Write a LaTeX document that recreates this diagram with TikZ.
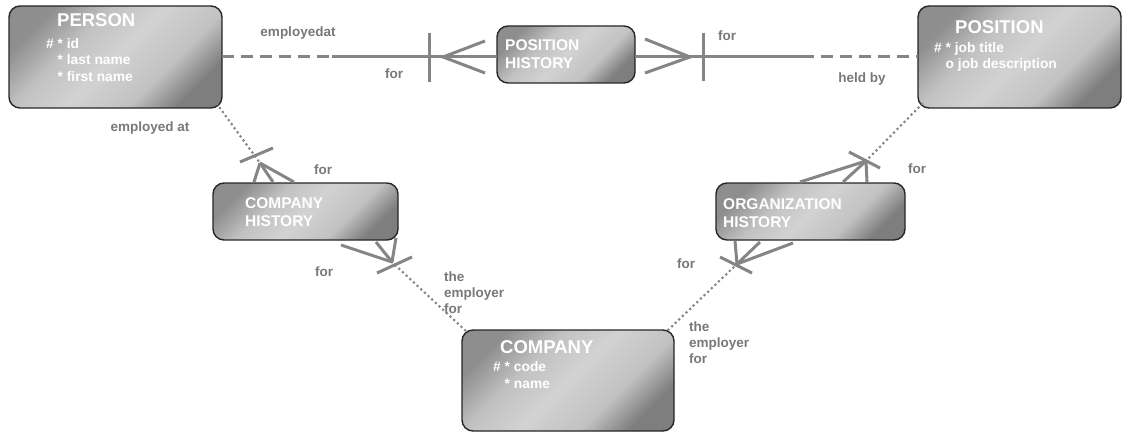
\documentclass[tikz,border=0pt]{standalone}
\usepackage{fontspec}
\setmainfont{Liberation Sans}
\usetikzlibrary{calc}

\definecolor{boxdark}{HTML}{8E8E8E}
\definecolor{boxdarker}{HTML}{7E7E7E}
\definecolor{boxmid}{HTML}{C2C2C2}
\definecolor{boxlight}{HTML}{D2D2D2}
\definecolor{linkgray}{HTML}{858585}
\definecolor{labelgray}{HTML}{787878}

% diagonal sheen for the entity boxes: dark corners, broad light middle
\pgfdeclareverticalshading{entityshade}{100bp}{%
  color(0bp)=(boxdarker); color(25bp)=(boxdarker); color(36bp)=(boxmid);
  color(50bp)=(boxlight); color(62bp)=(boxmid); color(75bp)=(boxdark);
  color(100bp)=(boxdark)}

\begin{document}
\begin{tikzpicture}[x=1pt,y=-1pt,
  entity/.style={draw=black!85, line width=1.4pt, rounded corners=11pt,
    shading=entityshade, shading angle=45, inner sep=0pt, outer sep=0pt},
  title/.style={font=\bfseries\fontsize{18.5}{20}\selectfont, text=white,
    anchor=west, inner sep=0pt},
  subtitle/.style={font=\bfseries\fontsize{15.5}{18}\selectfont, text=white,
    anchor=west, align=left, inner sep=0pt},
  attrs/.style={font=\bfseries\fontsize{13.8}{16.5}\selectfont, text=white,
    anchor=west, align=left, inner sep=0pt},
  lbl/.style={font=\bfseries\fontsize{13.5}{16}\selectfont, text=labelgray,
    inner sep=0pt},
  link/.style={draw=linkgray, line width=3pt},
  dashlink/.style={link, dash pattern=on 12pt off 7pt},
  dotlink/.style={draw=linkgray, line width=3pt, line cap=round,
    dash pattern=on 0pt off 5pt}
]
\useasboundingbox (0,0) rectangle (1124,433);

% entity boxes
\node[entity, minimum width=213pt, minimum height=102pt] (person)   at (115.5,57)   {};
\node[entity, minimum width=138pt, minimum height=57pt]  (poshist)  at (566,54.5)   {};
\node[entity, minimum width=203pt, minimum height=102pt] (position) at (1019.5,57)  {};
\node[entity, minimum width=185pt, minimum height=57pt]  (comphist) at (305.5,211.5) {};
\node[entity, minimum width=189pt, minimum height=57pt]  (orghist)  at (810.5,211.5) {};
\node[entity, minimum width=212pt, minimum height=101pt] (company)  at (568,380.5)  {};

% PERSON -- POSITION HISTORY
\coordinate (ph-l-dash) at (332,57);
\coordinate (ph-l-bar)  at (429,57);
\coordinate (ph-l-foot) at (443,57);
\draw[dashlink] (person.east) -- (ph-l-dash);
\draw[link] (ph-l-dash) -- (poshist.west |- person.east);
\draw[link] ([yshift=24pt]ph-l-bar) -- ([yshift=-25pt]ph-l-bar);
\draw[link] ($(ph-l-foot)+(42,-16)$) -- (ph-l-foot) -- ($(ph-l-foot)+(42,16)$);

% POSITION HISTORY -- POSITION
\coordinate (ph-r-dash) at (802,57);
\coordinate (ph-r-bar)  at (703,57);
\coordinate (ph-r-foot) at (690,57);
\draw[link] (poshist.east |- position.west) -- (ph-r-dash);
\draw[dashlink] (ph-r-dash) -- (position.west);
\draw[link] ([yshift=24pt]ph-r-bar) -- ([yshift=-24pt]ph-r-bar);
\draw[link] ($(ph-r-foot)+(-45,-18)$) -- (ph-r-foot) -- ($(ph-r-foot)+(-45,16)$);

% PERSON -- COMPANY HISTORY
\coordinate (ch-t-foot) at (260,163);
\draw[dotlink] ([xshift=-5pt,yshift=4pt]person.south east) -- (ch-t-foot);
\draw[link] ($(ch-t-foot)+(-20,-1)$) -- ($(ch-t-foot)+(13,-15)$);
\draw[link] (ch-t-foot) -- ($(ch-t-foot)+(-6,19)$);
\draw[link] (ch-t-foot) -- ($(ch-t-foot)+(13,19)$);
\draw[link] (ch-t-foot) -- ($(ch-t-foot)+(34,19)$);

% COMPANY HISTORY -- COMPANY
\coordinate (ch-b-foot) at (392,262);
\draw[link] (ch-b-foot) -- ($(ch-b-foot)+(-51,-17)$);
\draw[link] (ch-b-foot) -- ($(ch-b-foot)+(-16,-20)$);
\draw[link] (ch-b-foot) -- ($(ch-b-foot)+(4,-24)$);
\draw[link] ($(ch-b-foot)+(-15,11)$) -- ($(ch-b-foot)+(20,-5)$);
\draw[dotlink] (ch-b-foot) -- ([xshift=5pt,yshift=-2pt]company.north west);

% POSITION -- ORGANIZATION HISTORY
\coordinate (oh-t-foot) at (866,161);
\draw[dotlink] ([xshift=4pt,yshift=4pt]position.south west) -- (oh-t-foot);
\draw[link] ($(oh-t-foot)+(-17,-9)$) -- ($(oh-t-foot)+(14,7)$);
\draw[link] (oh-t-foot) -- ($(oh-t-foot)+(-66,21)$);
\draw[link] (oh-t-foot) -- ($(oh-t-foot)+(-23,21)$);
\draw[link] (oh-t-foot) -- ($(oh-t-foot)+(1,21)$);

% ORGANIZATION HISTORY -- COMPANY
\coordinate (oh-b-foot) at (737,264);
\draw[link] (oh-b-foot) -- ($(oh-b-foot)+(-2,-23)$);
\draw[link] (oh-b-foot) -- ($(oh-b-foot)+(23,-22)$);
\draw[link] (oh-b-foot) -- ($(oh-b-foot)+(56,-21)$);
\draw[link] ($(oh-b-foot)+(-17,-7)$) -- ($(oh-b-foot)+(15,9)$);
\draw[dotlink] (oh-b-foot) -- ([xshift=-8pt,yshift=-2pt]company.north east);

% entity texts
\node[title] (person-name) at (57,20) {PERSON};
\node[attrs] (person-attrs) at (46,60)
  {\# * id\\\hphantom{\# }* last name\\\hphantom{\# }* first name};
\node[subtitle] (poshist-name) at (505,54.5) {POSITION\\HISTORY};
\node[title] (position-name) at (955,27) {POSITION};
\node[attrs] (position-attrs) at (934,57)
  {\# * job title\\\hphantom{\# }o job description};
\node[subtitle] (comphist-name) at (245,212.5) {COMPANY\\HISTORY};
\node[subtitle] (orghist-name) at (723,213) {ORGANIZATION\\HISTORY};
\node[title] (company-name) at (500,347) {COMPANY};
\node[attrs] (company-attrs) at (493,375)
  {\# * code\\\hphantom{\# }* name};

% relationship labels
\node[lbl] (l-employedat) at (298,33) {employedat};
\node[lbl] (l-ph-for-l) at (394,74) {for};
\node[lbl] (l-ph-for-r) at (727,36) {for};
\node[lbl] (l-heldby) at (862,79) {held by};
\node[lbl] (l-employed-at) at (150,128) {employed at};
\node[lbl] (l-ch-for-t) at (323,170) {for};
\node[lbl] (l-ch-for-b) at (324,272) {for};
\node[lbl, align=left, anchor=west] (l-employer-l) at (444,293) {the\\employer\\for};
\node[lbl] (l-oh-for-b) at (686,264) {for};
\node[lbl] (l-oh-for-t) at (917,169) {for};
\node[lbl, align=left, anchor=west] (l-employer-r) at (689,343) {the\\employer\\for};
\end{tikzpicture}
\end{document}
